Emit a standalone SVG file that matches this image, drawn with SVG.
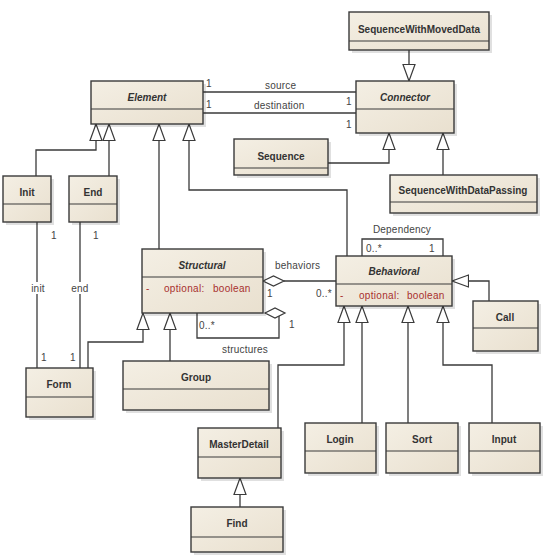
<svg xmlns="http://www.w3.org/2000/svg" width="543" height="558" viewBox="0 0 543 558">
<style>
.box{fill:url(#g);stroke:#3a3a3a;stroke-width:1.4}
.sh{fill:#000;opacity:0.12}
.div{stroke:#3a3a3a;stroke-width:1.2}
.t{font-family:"Liberation Sans",Arial,sans-serif;font-size:10px;font-weight:bold;fill:#333;text-anchor:middle;dominant-baseline:central}
.ti{font-style:italic}
.a{font-family:"Liberation Sans",Arial,sans-serif;font-size:10px;fill:#a8302e;dominant-baseline:central;letter-spacing:0.3px}
.l{font-family:"Liberation Sans",Arial,sans-serif;font-size:10px;fill:#444;dominant-baseline:central;letter-spacing:0.2px}
.c{fill:none;stroke:#3a3a3a;stroke-width:1.3}
.gen{marker-end:url(#tri)}
.dia{fill:#fff;stroke:#3a3a3a;stroke-width:1.2}
</style>
<defs>
<linearGradient id="g" x1="0" y1="0" x2="1" y2="1">
<stop offset="0" stop-color="#f4efe4"/>
<stop offset="1" stop-color="#e9e0cf"/>
</linearGradient>
<marker id="tri" markerUnits="userSpaceOnUse" markerWidth="18" markerHeight="14" viewBox="0 0 18 14" refX="17" refY="7" orient="auto">
<path d="M0.5,1 L17,7 L0.5,13 Z" fill="#fff" stroke="#3a3a3a" stroke-width="1.2"/>
</marker>
</defs>
<rect width="543" height="558" fill="#fff"/>

<g id="connectors">
<path class="c gen" d="M36,176 V150 H96 V124"/>
<path class="c gen" d="M109,176 V124"/>
<path class="c gen" d="M159,249 V124"/>
<path class="c gen" d="M347,256 V190 H189 V124"/>
<path class="c gen" d="M409,50 V81"/>
<path class="c gen" d="M328,163 H389 V133"/>
<path class="c gen" d="M443,175 V133"/>
<path class="c gen" d="M88,368 V342 H143 V313"/>
<path class="c gen" d="M170,361 V313"/>
<path class="c gen" d="M489,301 V281 H452"/>
<path class="c gen" d="M278,428 V365 H344 V306"/>
<path class="c gen" d="M362,423 V306"/>
<path class="c gen" d="M408,423 V306"/>
<path class="c gen" d="M492,423 V365 H443 V306"/>
<path class="c gen" d="M240,507 V478"/>
<path class="c" d="M203,92 H356"/>
<path class="c" d="M203,113 H356"/>
<path class="c" d="M37,222 V368"/>
<path class="c" d="M80,222 V368"/>
<path class="c" d="M362,256 V239 H443 V256"/>
<path class="c" d="M284,281 H336"/>
<path class="c" d="M279,316 V338 H197 V313"/>
<polygon class="dia" points="263,281 273.5,276 284,281 273.5,286"/>
<polygon class="dia" points="265,313 275,308 285,313 275,318"/>
<rect x="29" y="282" width="18" height="12" fill="#fff"/>
<rect x="70" y="282" width="20" height="12" fill="#fff"/>
<text class="l" x="206" y="83">1</text>
<text class="l" x="265" y="85">source</text>
<text class="l" x="206" y="104">1</text>
<text class="l" x="254" y="105">destination</text>
<text class="l" x="346" y="101">1</text>
<text class="l" x="346" y="124">1</text>
<text class="l" x="51" y="235">1</text>
<text class="l" x="93" y="235">1</text>
<text class="l" x="38" y="288" text-anchor="middle">init</text>
<text class="l" x="80" y="288" text-anchor="middle">end</text>
<text class="l" x="41" y="357">1</text>
<text class="l" x="70" y="357">1</text>
<text class="l" x="402" y="229" text-anchor="middle">Dependency</text>
<text class="l" x="366" y="248">0..*</text>
<text class="l" x="429" y="248">1</text>
<text class="l" x="275" y="265">behaviors</text>
<text class="l" x="316" y="293">0..*</text>
<text class="l" x="267" y="293">1</text>
<text class="l" x="199" y="325">0..*</text>
<text class="l" x="289" y="324">1</text>
<text class="l" x="245" y="349" text-anchor="middle">structures</text>
</g>

<g id="Element"><rect class="sh" x="94" y="84" width="112" height="43"/><rect class="box" x="91" y="81" width="112" height="43"/><line class="div" x1="91" y1="109" x2="203" y2="109"/><text class="t ti" x="147" y="97">Element</text></g>
<g id="Connector"><rect class="sh" x="359" y="84" width="98" height="52"/><rect class="box" x="356" y="81" width="98" height="52"/><line class="div" x1="356" y1="109" x2="454" y2="109"/><text class="t ti" x="405" y="97">Connector</text></g>
<g id="SequenceWithMovedData"><rect class="sh" x="352" y="15" width="140" height="38"/><rect class="box" x="349" y="12" width="140" height="38"/><line class="div" x1="349" y1="41" x2="489" y2="41"/><text class="t" x="419" y="29">SequenceWithMovedData</text></g>
<g id="Sequence"><rect class="sh" x="237" y="142" width="94" height="36"/><rect class="box" x="234" y="139" width="94" height="36"/><line class="div" x1="234" y1="168" x2="328" y2="168"/><text class="t" x="281" y="156">Sequence</text></g>
<g id="SequenceWithDataPassing"><rect class="sh" x="393" y="178" width="147" height="38"/><rect class="box" x="390" y="175" width="147" height="38"/><line class="div" x1="390" y1="202" x2="537" y2="202"/><text class="t" x="463" y="190">SequenceWithDataPassing</text></g>
<g id="Init"><rect class="sh" x="6" y="179" width="48" height="46"/><rect class="box" x="3" y="176" width="48" height="46"/><line class="div" x1="3" y1="204" x2="51" y2="204"/><text class="t" x="27" y="192">Init</text></g>
<g id="End"><rect class="sh" x="72" y="179" width="48" height="46"/><rect class="box" x="69" y="176" width="48" height="46"/><line class="div" x1="69" y1="204" x2="117" y2="204"/><text class="t" x="93" y="192">End</text></g>
<g id="Structural"><rect class="sh" x="145" y="252" width="121" height="64"/><rect class="box" x="142" y="249" width="121" height="64"/><line class="div" x1="142" y1="277" x2="263" y2="277"/><text class="t ti" x="202" y="265">Structural</text><text class="a" x="146" y="288">-</text><text class="a" x="164" y="288">optional:</text><text class="a" x="213" y="288">boolean</text></g>
<g id="Behavioral"><rect class="sh" x="339" y="259" width="116" height="50"/><rect class="box" x="336" y="256" width="116" height="50"/><line class="div" x1="336" y1="284" x2="452" y2="284"/><text class="t ti" x="394" y="271">Behavioral</text><text class="a" x="340" y="295">-</text><text class="a" x="359" y="295">optional:</text><text class="a" x="407" y="295">boolean</text></g>
<g id="Call"><rect class="sh" x="476" y="304" width="65" height="50"/><rect class="box" x="473" y="301" width="65" height="50"/><line class="div" x1="473" y1="328" x2="538" y2="328"/><text class="t" x="505" y="317">Call</text></g>
<g id="Form"><rect class="sh" x="29" y="371" width="67" height="49"/><rect class="box" x="26" y="368" width="67" height="49"/><line class="div" x1="26" y1="397" x2="93" y2="397"/><text class="t" x="59" y="384">Form</text></g>
<g id="Group"><rect class="sh" x="126" y="364" width="146" height="49"/><rect class="box" x="123" y="361" width="146" height="49"/><line class="div" x1="123" y1="389" x2="269" y2="389"/><text class="t" x="196" y="377">Group</text></g>
<g id="MasterDetail"><rect class="sh" x="201" y="431" width="83" height="50"/><rect class="box" x="198" y="428" width="83" height="50"/><line class="div" x1="198" y1="457" x2="281" y2="457"/><text class="t" x="239" y="444">MasterDetail</text></g>
<g id="Login"><rect class="sh" x="308" y="426" width="71" height="50"/><rect class="box" x="305" y="423" width="71" height="50"/><line class="div" x1="305" y1="451" x2="376" y2="451"/><text class="t" x="340" y="439">Login</text></g>
<g id="Sort"><rect class="sh" x="389" y="426" width="72" height="50"/><rect class="box" x="386" y="423" width="72" height="50"/><line class="div" x1="386" y1="451" x2="458" y2="451"/><text class="t" x="422" y="439">Sort</text></g>
<g id="Input"><rect class="sh" x="472" y="426" width="71" height="50"/><rect class="box" x="469" y="423" width="71" height="50"/><line class="div" x1="469" y1="451" x2="540" y2="451"/><text class="t" x="504" y="439">Input</text></g>
<g id="Find"><rect class="sh" x="194" y="510" width="92" height="45"/><rect class="box" x="191" y="507" width="92" height="45"/><line class="div" x1="191" y1="537" x2="283" y2="537"/><text class="t" x="237" y="523">Find</text></g>
</svg>
